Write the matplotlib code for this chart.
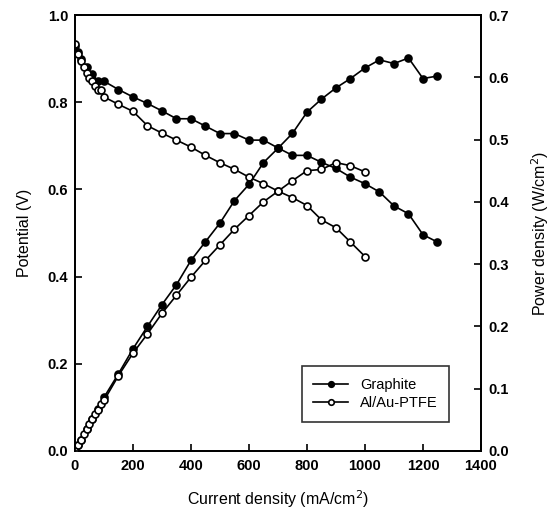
import numpy as np
from matplotlib import pyplot as plt

plt.rcParams['font.family'] = ['Liberation Sans', 'DejaVu Sans']

# ----------------------------------------------------------------------------
#   Data
# ----------------------------------------------------------------------------
# Graphite
graphite_i = [0, 10, 20, 40, 60, 80, 100, 150, 200, 250, 300, 350, 400, 450,
              500, 550, 600, 650, 700, 750, 800, 850, 900, 950, 1000, 1050,
              1100, 1150, 1200, 1250]
graphite_v = [0.930, 0.916, 0.898, 0.881, 0.864, 0.848, 0.848, 0.829, 0.812,
              0.797, 0.780, 0.762, 0.762, 0.745, 0.728, 0.728, 0.713, 0.713,
              0.695, 0.678, 0.678, 0.662, 0.648, 0.628, 0.613, 0.594, 0.562,
              0.544, 0.496, 0.479]
graphite_p = [0.000, 0.009, 0.018, 0.035, 0.052, 0.068, 0.086, 0.124, 0.164,
              0.200, 0.235, 0.267, 0.306, 0.336, 0.366, 0.402, 0.428, 0.463,
              0.486, 0.510, 0.544, 0.565, 0.583, 0.598, 0.615, 0.628, 0.622,
              0.631, 0.598, 0.602]

# Al/Au-PTFE
ptfe_i = [0, 10, 20, 30, 40, 50, 60, 70, 80, 90, 100, 150, 200, 250, 300, 350,
          400, 450, 500, 550, 600, 650, 700, 750, 800, 850, 900, 950, 1000]
ptfe_v = [0.933, 0.910, 0.895, 0.880, 0.866, 0.856, 0.848, 0.838, 0.829,
          0.829, 0.812, 0.795, 0.779, 0.746, 0.729, 0.713, 0.697, 0.678,
          0.661, 0.646, 0.628, 0.613, 0.596, 0.581, 0.563, 0.530, 0.512,
          0.479, 0.446]
ptfe_p = [0.000, 0.009, 0.018, 0.027, 0.035, 0.043, 0.051, 0.059, 0.066,
          0.075, 0.081, 0.121, 0.157, 0.188, 0.221, 0.250, 0.279, 0.306,
          0.331, 0.356, 0.378, 0.400, 0.417, 0.434, 0.450, 0.452, 0.463,
          0.458, 0.448]

# ----------------------------------------------------------------------------
#   Plot
# ----------------------------------------------------------------------------
fig = plt.figure(figsize=(5.58, 5.21), dpi=100)
ax = fig.add_axes([0.1344, 0.1345, 0.7276, 0.8367])
ax2 = ax.twinx()

line_kw = dict(color='black', linewidth=1.2, markersize=5, markeredgewidth=1.2)

g, = ax.plot(graphite_i, graphite_v, marker='o', markerfacecolor='black',
             label='Graphite', **line_kw)
p, = ax.plot(ptfe_i, ptfe_v, marker='o', markerfacecolor='white',
             label='Al/Au-PTFE', zorder=3, **line_kw)
ax2.plot(graphite_i, graphite_p, marker='o', markerfacecolor='black', **line_kw)
ax2.plot(ptfe_i, ptfe_p, marker='o', markerfacecolor='white', **line_kw)

ax.set_xlim(0, 1400)
ax.set_ylim(0, 1.0)
ax2.set_ylim(0, 0.7)
ax.set_xticks(np.arange(0, 1401, 200))
ax.set_yticks(np.arange(0, 1.01, 0.2))
ax2.set_yticks(np.arange(0, 0.71, 0.1))
ax.set_yticklabels(['%.1f' % v for v in np.arange(0, 1.01, 0.2)])
ax2.set_yticklabels(['%.1f' % v for v in np.arange(0, 0.71, 0.1)])

for a in (ax, ax2):
    a.tick_params(direction='in', length=5, width=1.2, labelsize=10.5, pad=5)
    for s in a.spines.values():
        s.set_linewidth(1.3)
    for t in a.get_xticklabels() + a.get_yticklabels():
        t.set_fontweight('bold')
ax.tick_params(axis='x', pad=6)

ax.set_xlabel('Current density (mA/cm$^2$)', fontsize=11.5, labelpad=11)
ax.set_ylabel('Potential (V)', fontsize=11.5, labelpad=11)
ax2.set_ylabel('Power density (W/cm$^2$)', fontsize=11.5, labelpad=15)

leg = ax.legend(handles=[g, p], loc='lower right', bbox_to_anchor=(0.94, 0.05),
                fontsize=10.5, frameon=True, fancybox=False, edgecolor='black',
                handlelength=2.4, borderpad=0.8, labelspacing=0.3)
leg.get_frame().set_linewidth(1.2)
leg.set_zorder(5)
for h in leg.legend_handles:
    h.set_markersize(4)

plt.savefig('out.png', dpi=100)
